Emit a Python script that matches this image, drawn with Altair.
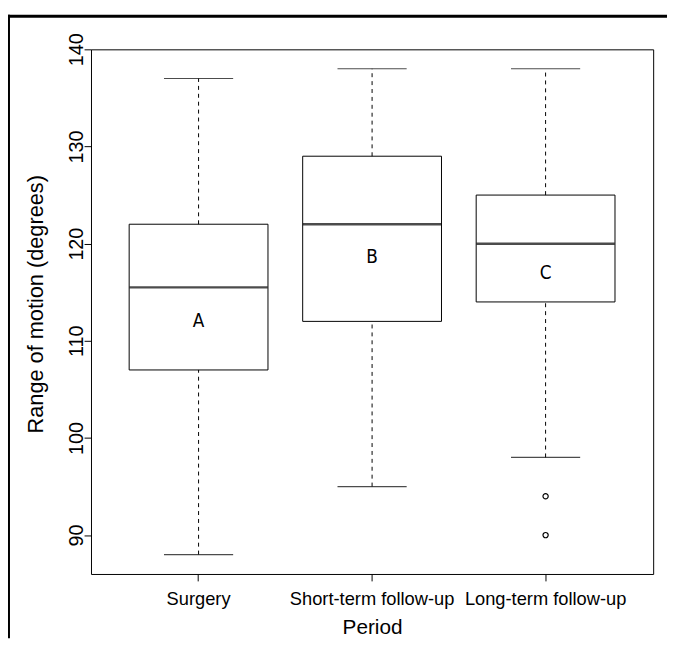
import altair as alt
import pandas as pd

# ---- data ----
periods = ["Surgery", "Short-term follow-up", "Long-term follow-up"]
lower_whisker = [88, 95, 98]
q1 = [107, 112, 114]
median = [115.5, 122, 120]
q3 = [122, 129, 125]
upper_whisker = [137, 138, 138]
letters = ["A", "B", "C"]
letter_y = [112, 118.6, 117]
outlier_period = ["Long-term follow-up", "Long-term follow-up"]
outlier_value = [94, 90]

box_df = pd.DataFrame({
    "period": periods, "lower": lower_whisker, "q1": q1, "median": median,
    "q3": q3, "upper": upper_whisker, "letter": letters, "letter_y": letter_y,
})
out_df = pd.DataFrame({"period": outlier_period, "value": outlier_value})

FONT = "Liberation Sans"
PLOT_W, PLOT_H = 569, 531

xscale = alt.Scale(type="band", domain=periods, paddingInner=0.2, paddingOuter=0.22)
yscale = alt.Scale(domain=[86, 140], nice=False, zero=False)

x_axis = alt.Axis(
    title="Period", labelAngle=0, labelPadding=9, tickSize=7, ticks=True,
    labelFontSize=18.5, titleFontSize=21,
    domain=False, grid=False, titleX=PLOT_W / 2, titleY=54,
    titleBaseline="middle", titleAlign="center",
)
y_axis = alt.Axis(
    title="Range of motion (degrees)", values=[90, 100, 110, 120, 130, 140],
    labelAngle=270, labelAlign="center", labelBaseline="alphabetic", labelPadding=2,
    labelFontSize=20, titleFontSize=22,
    tickSize=7, domain=False, grid=False, titleAngle=270, titleX=-56,
    titleY=PLOT_H / 2 - 8, titleBaseline="middle", titleAlign="center",
)

x_enc = alt.X("period:N", sort=periods, scale=xscale, axis=x_axis)

base = alt.Chart(box_df)

boxes = base.mark_rect(fill="white", stroke="black", strokeWidth=1).encode(
    x=x_enc,
    y=alt.Y("q1:Q", scale=yscale, axis=y_axis),
    y2="q3:Q",
)

upper_w = base.mark_rule(color="black", strokeWidth=1, strokeDash=[4, 4]).encode(
    x=x_enc, y=alt.Y("q3:Q", scale=yscale), y2="upper:Q"
)
lower_w = base.mark_rule(color="black", strokeWidth=1, strokeDash=[4, 4]).encode(
    x=x_enc, y=alt.Y("lower:Q", scale=yscale), y2="q1:Q"
)
cap_top = base.mark_tick(color="black", size=70, thickness=1.2, orient="horizontal").encode(
    x=x_enc, y=alt.Y("upper:Q", scale=yscale)
)
cap_bot = base.mark_tick(color="black", size=70, thickness=1.2, orient="horizontal").encode(
    x=x_enc, y=alt.Y("lower:Q", scale=yscale)
)
med = base.mark_tick(color="black", size=140, thickness=2.5, orient="horizontal").encode(
    x=x_enc, y=alt.Y("median:Q", scale=yscale)
)
labels = base.mark_text(
    font="DejaVu Sans Condensed", fontSize=19, color="black", baseline="middle", align="center"
).encode(x=x_enc, y=alt.Y("letter_y:Q", scale=yscale), text="letter:N")

outliers = alt.Chart(out_df).mark_point(
    shape="circle", filled=False, color="black", size=28, strokeWidth=1.2, opacity=1
).encode(x=alt.X("period:N", sort=periods, scale=xscale), y=alt.Y("value:Q", scale=yscale))

frame_df = pd.DataFrame({"k": [0]})
top_line = alt.Chart(frame_df).mark_rule(color="black", strokeWidth=3).encode(
    x=alt.value(-84), x2=alt.value(PLOT_W + 14), y=alt.value(-33.5)
)
left_line = alt.Chart(frame_df).mark_rule(color="black", strokeWidth=2).encode(
    x=alt.value(-83), y=alt.value(-35), y2=alt.value(PLOT_H + 65)
)

chart = alt.layer(
    boxes, upper_w, lower_w, cap_top, cap_bot, med, labels, outliers, top_line, left_line
).properties(
    width=PLOT_W, height=PLOT_H,
    autosize=alt.AutoSizeParams(type="none"),
    padding={"left": 84, "top": 38, "right": 14, "bottom": 65},
    background="white",
).configure_view(
    stroke="black", strokeWidth=1, fill="white"
).configure_axis(
    labelFont=FONT, titleFont=FONT,
    labelColor="black", titleColor="black", tickColor="black", tickWidth=1,
    titleFontWeight="normal",
)

chart.save("out.html", embed_options={"renderer": "svg", "actions": False})
